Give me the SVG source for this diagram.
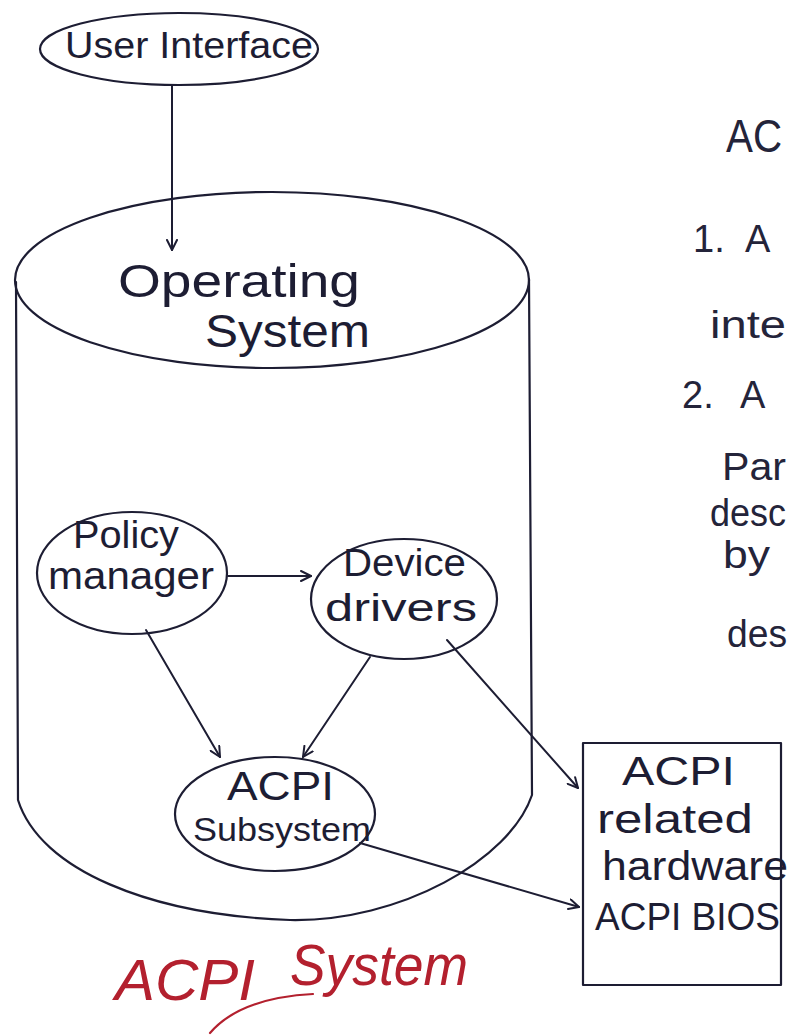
<svg xmlns="http://www.w3.org/2000/svg" width="790" height="1035" viewBox="0 0 790 1035">
  <style>
    .ink { fill: none; stroke: #1d1d33; stroke-width: 2.2; stroke-linecap: round; stroke-linejoin: round; }
    .wire { fill: none; stroke: #1d1d33; stroke-width: 2; stroke-linecap: round; }
    .lbl { font-family: "Liberation Sans", Arial, sans-serif; fill: #1d1d33; }
    .note { font-family: "Liberation Sans", Arial, sans-serif; fill: #24243a; font-size: 38px; }
    .note-head { font-family: "Liberation Sans", Arial, sans-serif; fill: #24243a; font-size: 46px; }
    .title { font-family: "Liberation Sans", Arial, sans-serif; font-style: italic; fill: #b3202e; font-size: 58px; }
  </style>
  <defs>
    <marker id="arrow" viewBox="0 0 12 12" refX="11" refY="6" markerWidth="12" markerHeight="12" markerUnits="userSpaceOnUse" orient="auto">
      <path d="M1,1 L11,6 L1,11" fill="none" stroke="#1d1d33" stroke-width="2" stroke-linecap="round" stroke-linejoin="round"/>
    </marker>
  </defs>
  <rect width="790" height="1035" fill="#ffffff"/>

  <!-- user interface bubble -->
  <g id="user-interface">
    <ellipse class="ink" cx="179" cy="49" rx="139" ry="36"/>
    <text class="lbl" x="65" y="58" font-size="36" textLength="248" lengthAdjust="spacingAndGlyphs">User Interface</text>
  </g>

  <!-- operating system drum -->
  <g id="operating-system">
    <ellipse class="ink" cx="272" cy="280" rx="257" ry="88"/>
    <path class="ink" d="M16,282 L18,800 C40,870 150,915 290,920 C400,922 510,860 532,795 L529,279"/>
    <text class="lbl" x="118" y="297" font-size="46" textLength="242" lengthAdjust="spacingAndGlyphs">Operating</text>
    <text class="lbl" x="205" y="347" font-size="46" textLength="165" lengthAdjust="spacingAndGlyphs">System</text>
  </g>

  <g id="policy-manager">
    <ellipse class="ink" cx="132" cy="573" rx="95" ry="61"/>
    <text class="lbl" x="73" y="548" font-size="38" textLength="106" lengthAdjust="spacingAndGlyphs">Policy</text>
    <text class="lbl" x="48" y="589" font-size="38" textLength="166" lengthAdjust="spacingAndGlyphs">manager</text>
  </g>

  <g id="device-drivers">
    <ellipse class="ink" cx="404" cy="599" rx="93" ry="60"/>
    <text class="lbl" x="343" y="576" font-size="38" textLength="123" lengthAdjust="spacingAndGlyphs">Device</text>
    <text class="lbl" x="325" y="621" font-size="38" textLength="152" lengthAdjust="spacingAndGlyphs">drivers</text>
  </g>

  <g id="acpi-subsystem">
    <ellipse class="ink" cx="275" cy="814" rx="100" ry="57"/>
    <text class="lbl" x="227" y="800" font-size="40" textLength="107" lengthAdjust="spacingAndGlyphs">ACPI</text>
    <text class="lbl" x="193" y="841" font-size="34" textLength="178" lengthAdjust="spacingAndGlyphs">Subsystem</text>
  </g>

  <g id="acpi-hardware">
    <rect class="ink" x="583" y="743" width="198" height="242"/>
    <text class="lbl" x="622" y="785" font-size="40" textLength="113" lengthAdjust="spacingAndGlyphs">ACPI</text>
    <text class="lbl" x="597" y="833" font-size="40" textLength="156" lengthAdjust="spacingAndGlyphs">related</text>
    <text class="lbl" x="602" y="880" font-size="40" textLength="186" lengthAdjust="spacingAndGlyphs">hardware</text>
    <text class="lbl" x="595" y="930" font-size="38" textLength="185" lengthAdjust="spacingAndGlyphs">ACPI BIOS</text>
  </g>

  <!-- connectors -->
  <g id="connectors">
    <line class="wire" x1="172" y1="86" x2="172" y2="250" marker-end="url(#arrow)"/>
    <line class="wire" x1="228" y1="576" x2="311" y2="576" marker-end="url(#arrow)"/>
    <line class="wire" x1="146" y1="630" x2="220" y2="757" marker-end="url(#arrow)"/>
    <line class="wire" x1="370" y1="657" x2="303" y2="757" marker-end="url(#arrow)"/>
    <line class="wire" x1="447" y1="640" x2="578" y2="788" marker-end="url(#arrow)"/>
    <line class="wire" x1="360" y1="843" x2="579" y2="907" marker-end="url(#arrow)"/>
  </g>

  <!-- side notes, running off the right edge -->
  <g id="side-notes">
    <text class="note-head" x="726" y="152" textLength="56" lengthAdjust="spacingAndGlyphs">AC</text>
    <text class="note" x="693" y="252">1.<tspan x="745">A</tspan></text>
    <text class="note" x="710" y="338" textLength="76" lengthAdjust="spacingAndGlyphs">inte</text>
    <text class="note" x="682" y="408">2.<tspan x="740">A</tspan></text>
    <text class="note" x="722" y="480" textLength="64" lengthAdjust="spacingAndGlyphs">Par</text>
    <text class="note" x="710" y="526" textLength="76" lengthAdjust="spacingAndGlyphs">desc</text>
    <text class="note" x="723" y="568" textLength="47" lengthAdjust="spacingAndGlyphs">by</text>
    <text class="note" x="727" y="647" textLength="60" lengthAdjust="spacingAndGlyphs">des</text>
  </g>

  <!-- caption -->
  <g id="caption">
    <text class="title" x="115" y="1000" textLength="140" lengthAdjust="spacingAndGlyphs">ACPI</text>
    <text class="title" x="290" y="985" textLength="178" lengthAdjust="spacingAndGlyphs">System</text>
    <path d="M210,1033 Q240,998 313,994" fill="none" stroke="#b3202e" stroke-width="2.2" stroke-linecap="round"/>
  </g>
</svg>
